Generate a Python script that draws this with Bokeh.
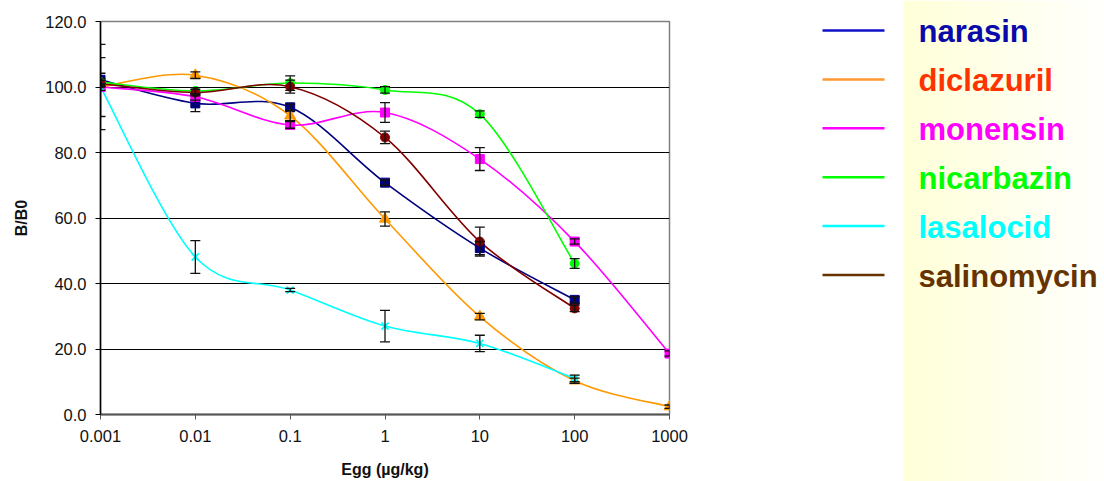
import numpy as np
from bokeh.plotting import figure
from bokeh.layouts import row
from bokeh.models import (Range1d, FixedTicker, ColumnDataSource, Whisker, TeeHead,
                          PrintfTickFormatter)
from bokeh.core.properties import value
from bokeh.embed import file_html
from bokeh.resources import INLINE

# ---------------- data ----------------
doses6 = [0.001, 0.01, 0.1, 1, 10, 100]
doses7 = [0.001, 0.01, 0.1, 1, 10, 100, 1000]

narasin = [102.2, 95.0, 93.8, 70.8, 50.8, 35.0]
narasin_err = [2.0, 2.5, 1.0, 0.8, 2.0, 1.0]
diclazuril = [100.0, 103.6, 91.2, 59.7, 29.9, 10.3, 2.4]
diclazuril_err = [1.0, 1.0, 1.5, 2.2, 1.0, 0.8, 0.5]
monensin = [100.0, 97.0, 88.4, 92.2, 78.0, 52.8, 18.6]
monensin_err = [9.0, 1.0, 1.0, 3.0, 3.5, 0.8, 0.8]
nicarbazin = [101.5, 98.8, 101.2, 99.1, 91.7, 46.1]
nicarbazin_err = [1.0, 1.0, 2.2, 1.0, 1.0, 1.5]
lasalocid = [100.0, 48.1, 38.0, 27.0, 21.7, 11.0]
lasalocid_err = [13.0, 5.0, 0.5, 4.8, 2.5, 1.0]
salinomycin = [101.0, 98.3, 100.1, 84.6, 52.8, 32.4]
salinomycin_err = [1.0, 1.0, 2.0, 1.9, 4.4, 1.0]

series_names = ["narasin", "diclazuril", "monensin", "nicarbazin", "lasalocid", "salinomycin"]
x_ticks = [0.001, 0.01, 0.1, 1, 10, 100, 1000]
x_tick_labels = ["0.001", "0.01", "0.1", "1", "10", "100", "1000"]
y_ticks = [0, 20, 40, 60, 80, 100, 120]

# ---------------- styles ----------------
FONT = "Liberation Sans"
series = [
    (doses6, narasin, narasin_err, "#000080", "square", 9),
    (doses7, diclazuril, diclazuril_err, "#FF9900", "triangle", 11),
    (doses7, monensin, monensin_err, "#FF00FF", "square", 9),
    (doses6, nicarbazin, nicarbazin_err, "#00FF00", "circle", 9),
    (doses6, lasalocid, lasalocid_err, "#00FFFF", "x", 10),
    (doses6, salinomycin, salinomycin_err, "#800000", "circle", 9),
]
legend_line_colors = ["#1010C8", "#FF9933", "#FF00FF", "#00FF00", "#00FFFF", "#663300"]
legend_text_colors = ["#0A0AAA", "#FF3300", "#FF00FF", "#00FF00", "#00FFFF", "#663300"]


def smooth(xs, ys):
    """Bezier segments (Catmull-Rom style smoothing, as in spreadsheet charts)."""
    lx = np.log10(np.asarray(xs, dtype=float))
    y = np.asarray(ys, dtype=float)
    n = len(y)
    out = {k: [] for k in ["x0", "y0", "x1", "y1", "cx0", "cy0", "cx1", "cy1"]}
    for i in range(n - 1):
        a = i - 1 if i > 0 else i
        d = i + 2 if i + 2 < n else i + 1
        out["x0"].append(10 ** lx[i]); out["y0"].append(y[i])
        out["x1"].append(10 ** lx[i + 1]); out["y1"].append(y[i + 1])
        out["cx0"].append(10 ** (lx[i] + (lx[i + 1] - lx[a]) / 6))
        out["cy0"].append(y[i] + (y[i + 1] - y[a]) / 6)
        out["cx1"].append(10 ** (lx[i + 1] - (lx[d] - lx[i]) / 6))
        out["cy1"].append(y[i + 1] - (y[d] - y[i]) / 6)
    return out


# ---------------- chart ----------------
p = figure(x_axis_type="log", x_range=Range1d(0.001, 1000), y_range=Range1d(0, 120),
           frame_width=569, frame_height=393,
           min_border_left=100, min_border_top=21, min_border_right=131, min_border_bottom=67,
           output_backend="svg", toolbar_location=None,
           background_fill_color="white", border_fill_color="white")
p.frame_align = False
p.outline_line_color = "#808080"
p.outline_line_width = 1.5
p.xgrid.visible = False
p.ygrid.ticker = FixedTicker(ticks=[20, 40, 60, 80, 100])
p.ygrid.grid_line_color = "black"
p.ygrid.grid_line_width = 1

p.xaxis.ticker = FixedTicker(ticks=x_ticks)
p.xaxis.major_label_overrides = {t: l for t, l in zip(x_ticks, x_tick_labels)}
p.yaxis.ticker = FixedTicker(ticks=y_ticks)
p.yaxis.formatter = PrintfTickFormatter(format="%.1f")
for ax in (p.xaxis[0], p.yaxis[0]):
    ax.minor_tick_line_color = None
    ax.major_tick_in = 0
    ax.major_tick_out = 5
    ax.major_label_text_font = FONT
    ax.major_label_text_font_size = "16.5px"
    ax.major_label_text_color = "#111111"
    ax.axis_label_text_font = FONT
    ax.axis_label_text_font_style = "bold"
    ax.axis_label_text_font_size = "16px"
    ax.axis_label_text_color = "#111111"
p.xaxis.axis_line_color = "#555555"
p.xaxis.axis_line_width = 2
p.xaxis.major_tick_line_color = "#555555"
p.xaxis.major_label_standoff = 10
p.xaxis.axis_label = "Egg (µg/kg)"
p.xaxis.axis_label_standoff = 16
p.yaxis.axis_line_color = "black"
p.yaxis.axis_line_width = 1.5
p.yaxis.major_tick_line_color = "black"
p.yaxis.major_label_standoff = 9
p.yaxis.axis_label = "B/B0"
p.yaxis.axis_label_standoff = 12

for xs, ys, es, col, mk, sz in series:
    p.bezier(source=ColumnDataSource(smooth(xs, ys)), x0="x0", y0="y0", x1="x1", y1="y1",
             cx0="cx0", cy0="cy0", cx1="cx1", cy1="cy1", line_color=col, line_width=1.6)

for xs, ys, es, col, mk, sz in series:
    src = ColumnDataSource(dict(x=xs, lower=[v - e for v, e in zip(ys, es)],
                                upper=[v + e for v, e in zip(ys, es)]))
    w = Whisker(source=src, base="x", lower="lower", upper="upper", dimension="height",
                line_color="#111111", line_width=1.3, level="glyph",
                upper_head=TeeHead(size=10, line_color="#111111", line_width=1.3),
                lower_head=TeeHead(size=10, line_color="#111111", line_width=1.3))
    p.add_layout(w)

for xs, ys, es, col, mk, sz in series:
    if mk == "x":
        p.scatter(xs, ys, marker="x", size=sz, line_color=col, line_width=1.8)
    else:
        p.scatter(xs, ys, marker=mk, size=sz, fill_color=col, line_color=col)

# ---------------- legend panel ----------------
leg = figure(width=304, height=481, x_range=Range1d(800, 1104), y_range=Range1d(481, 0),
             min_border=0, output_backend="svg", toolbar_location=None,
             background_fill_color="white", border_fill_color="white")
leg.frame_align = False
leg.axis.visible = False
leg.grid.visible = False
leg.outline_line_color = None

# pale-yellow to white horizontal gradient panel
n_strips = 48
edges = np.linspace(903, 1104, n_strips + 1)
cols = []
for i in range(n_strips):
    t = i / (n_strips - 1)
    b = int(round(216 + (253 - 216) * t))
    cols.append("#%02X%02X%02X" % (255, 255, b))
leg.quad(left=edges[:-1], right=edges[1:] + 0.5, top=0, bottom=481, fill_color=cols, line_color=None)

row_y = [30.0 + 48.9 * i for i in range(len(series_names))]
leg.segment(x0=[822] * 6, x1=[884] * 6, y0=row_y, y1=row_y, line_color=legend_line_colors, line_width=2.5)
leg.text(x=[918] * 6, y=[r + 1 for r in row_y], text=series_names, text_color=legend_text_colors,
         text_font=value(FONT), text_font_style="bold", text_font_size="31px",
         text_baseline="alphabetic", text_align="left")

layout = row(p, leg)
open("out.html", "w").write(file_html(layout, INLINE))
